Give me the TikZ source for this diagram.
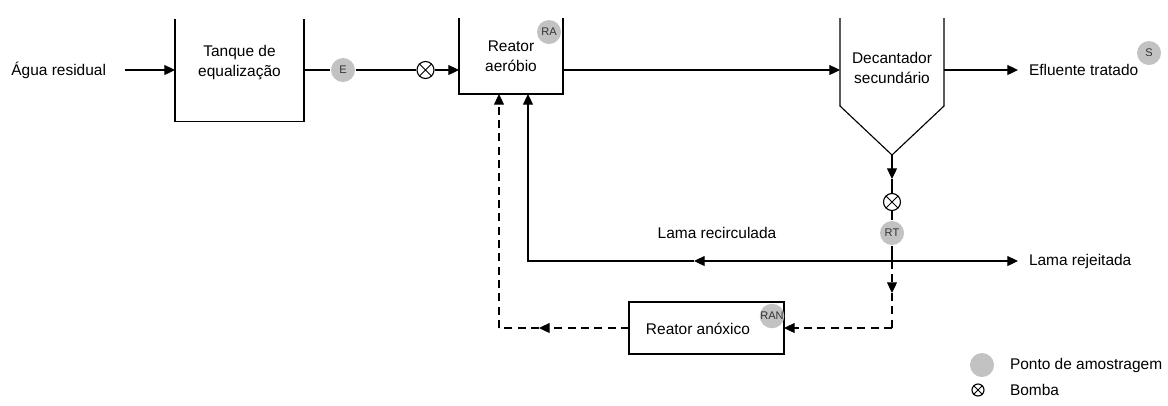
\documentclass[tikz,border=0pt]{standalone}
\usepackage{fontspec}
\setmainfont{Liberation Sans}
\usetikzlibrary{arrows.meta}
\definecolor{sampgray}{HTML}{C2C2C2}
\definecolor{samptext}{HTML}{333333}
\begin{document}
\begin{tikzpicture}[x=0.75pt,y=-0.75pt,line width=0.85pt,
  every node/.style={font=\fontsize{11.6}{15}\selectfont},
  arr/.style={-{Triangle[length=8pt,width=7.5pt]}},
  dl/.style={dash pattern=on 6pt off 4pt},
  box/.style={inner sep=0pt,outer sep=0pt},
  samp/.style={circle,fill=sampgray,inner sep=0pt,minimum size=18pt,text=samptext,font=\fontsize{8.3}{9}\selectfont},
  pump/.style={circle,draw,fill=white,inner sep=0pt,minimum size=#1,
    path picture={\draw[line width=0.6pt] (path picture bounding box.north west) -- (path picture bounding box.south east)
      (path picture bounding box.north east) -- (path picture bounding box.south west);}},
  pump/.default=12.75pt,
  txt/.style={align=center}]
\useasboundingbox (0,0) rectangle (1168,405);

% Tanque de equalizacao
\node[box,minimum width=96.75pt,minimum height=77.25pt] (tq) at (239.5,70) {};
\draw (tq.north west) -- (tq.south west) -- (tq.south east) -- (tq.north east);
\node[txt] (tqt) at (239.5,63) {Tanque de\\equalização};

% Agua residual
\node[anchor=east] (in) at (111,70) {Água residual};
\draw[arr] ([xshift=10.5pt]in.east) -- (tq.west);

% E sample and pump
\node[samp] (E) at (343,70) {E};
\node[pump] (p1) at (425.5,70) {};
\draw (tq.east) -- (E);
\draw (E) -- (p1);

% Reator aerobio
\node[box,minimum width=78pt,minimum height=57pt] (ra) at (511,56) {};
\draw (ra.north west) -- (ra.south west) -- (ra.south east) -- (ra.north east);
\node[txt] (rat) at (511,56.5) {Reator\\aeróbio};
\node[samp] (RA) at (549,32) {RA};
\draw[arr] (p1) -- (p1 -| ra.west);

% Decantador secundario
\node[box,minimum width=78pt,minimum height=66pt] (dc) at (892,62) {};
\coordinate (dcb) at (892,155);
\draw (dc.north west) -- (dc.south west) -- (dcb) -- (dc.south east) -- (dc.north east);
\node[txt] (dct) at (892,68) {Decantador\\secundário};
\draw[arr] (ra.east |- p1) -- (dc.west |- p1);

% Efluente tratado
\node[anchor=west] (ef) at (1024,70) {Efluente tratado};
\node[samp] (S) at (1149,53) {S};
\draw[arr,shorten >=4.5pt] (dc.east |- ef) -- (ef.west);

% Sludge line
\coordinate (a1) at (892,179);
\node[pump] (p2) at (892,202) {};
\node[samp] (RT) at (892,233) {RT};
\coordinate (j) at (892,261);
\draw[arr] (dcb) -- (a1);
\draw (a1) -- (p2);
\draw (p2) -- (RT);
\draw (RT) -- (j);

% Lama rejeitada
\node[anchor=west] (lrj) at (1024,261) {Lama rejeitada};
\draw[arr,shorten >=4.5pt] (j) -- (lrj.west);

% Lama recirculada
\coordinate (m1) at (694,261);
\coordinate (c1) at (528,261);
\draw[arr] (j) -- (m1);
\draw[arr] (m1) -- (c1) -- (ra.south -| c1);
\node (lrc) at (717,233) {Lama recirculada};

% Reator anoxico
\node[draw,box,minimum width=116.25pt,minimum height=39pt] (an) at (706.5,328) {};
\node (ant) at (698,329) {Reator anóxico};
\node[samp] (RAN) at (772,316) {RAN};
\coordinate (a2) at (892,293);
\coordinate (c2) at (892,328);
\coordinate (m2) at (539,328);
\coordinate (c3) at (499,328);
\draw[dl,arr] (j) -- (a2);
\draw[dl] (a2) -- (c2);
\draw[dl,arr] (c2) -- (an.east);
\draw[dl,arr] (an.west) -- (m2);
\draw[dl] (m2) -- (c3);
\draw[dl,arr] (c3) -- (ra.south -| c3);

% Legend
\node[samp] (lg1) at (982,365) {};
\node[anchor=west] (lg1t) at (1005,365) {Ponto de amostragem};
\node[pump=9pt] (lg2) at (978,390) {};
\node[anchor=west] (lg2t) at (1005,390) {Bomba};
\end{tikzpicture}
\end{document}
